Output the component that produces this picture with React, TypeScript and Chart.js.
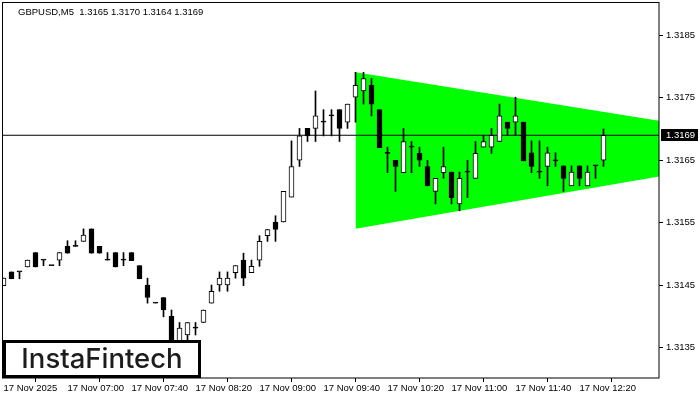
import React, { useEffect, useRef } from "react";
import { Chart, registerables } from "chart.js";

Chart.register(...registerables);

// ---- Data (GBPUSD M5, 17 Nov 2025, one candle every 5 minutes from 06:20) ----
const opens = [
  1.31449, 1.31471, 1.31471, 1.31479, 1.31502, 1.3149, 1.31481, 1.3149, 1.31512, 1.31512,
  1.3152, 1.3154, 1.31512, 1.3149, 1.31502, 1.3149, 1.31502, 1.31481, 1.3145, 1.31421,
  1.3143, 1.314, 1.3136, 1.3137, 1.31381, 1.3139, 1.31421, 1.3145, 1.3145, 1.3147,
  1.3149, 1.3147, 1.3149, 1.31529, 1.31551, 1.31551, 1.31591, 1.3165, 1.31701, 1.31701,
  1.31711, 1.31721, 1.31731, 1.31711, 1.31751, 1.31761, 1.3177, 1.31731, 1.31661, 1.3165,
  1.3163, 1.31671, 1.31661, 1.3164, 1.316, 1.3163, 1.31631, 1.3158, 1.31631, 1.31621,
  1.31671, 1.31671, 1.3168, 1.31711, 1.31711, 1.31711, 1.31662, 1.31631, 1.3164, 1.31649,
  1.31641, 1.31609, 1.31641, 1.31609, 1.31641, 1.3165,
];
const highs = [
  1.31461, 1.31471, 1.31471, 1.3149, 1.31502, 1.3149, 1.31481, 1.31502, 1.31521, 1.31521,
  1.3154, 1.3154, 1.31512, 1.31502, 1.31502, 1.31502, 1.31502, 1.31481, 1.31461, 1.31421,
  1.3143, 1.3141, 1.3139, 1.3139, 1.3139, 1.3141, 1.3145, 1.31471, 1.31471, 1.31481,
  1.31501, 1.3149, 1.31529, 1.31539, 1.31561, 1.316, 1.31681, 1.31701, 1.31701, 1.31761,
  1.31731, 1.31731, 1.31731, 1.3174, 1.31791, 1.31791, 1.31781, 1.31731, 1.31671, 1.3165,
  1.31701, 1.3168, 1.31671, 1.3165, 1.31621, 1.31671, 1.31631, 1.31631, 1.3165, 1.3168,
  1.3169, 1.31701, 1.3174, 1.31711, 1.31751, 1.31711, 1.31681, 1.31681, 1.31671, 1.31662,
  1.31641, 1.31641, 1.31641, 1.31641, 1.31641, 1.317,
];
const lows = [
  1.31449, 1.3146, 1.3146, 1.31479, 1.31479, 1.31481, 1.31481, 1.31481, 1.31501, 1.31512,
  1.3152, 1.31501, 1.31501, 1.3149, 1.31479, 1.31481, 1.31489, 1.3146, 1.31421, 1.31421,
  1.31399, 1.3134, 1.3135, 1.31362, 1.3137, 1.3139, 1.31421, 1.3144, 1.3144, 1.31461,
  1.31449, 1.3147, 1.3148, 1.3152, 1.3152, 1.31551, 1.31591, 1.3164, 1.3168, 1.3168,
  1.31689, 1.31689, 1.3168, 1.31701, 1.31711, 1.3174, 1.31721, 1.3167, 1.3163, 1.316,
  1.3163, 1.3163, 1.3164, 1.31609, 1.3158, 1.31621, 1.3158, 1.31569, 1.3159, 1.31621,
  1.31671, 1.31661, 1.3168, 1.3169, 1.3169, 1.31649, 1.3163, 1.31621, 1.31609, 1.3164,
  1.316, 1.31609, 1.31609, 1.31609, 1.31621, 1.3164,
];
const closes = [
  1.31461, 1.3146, 1.31471, 1.3149, 1.31479, 1.3149, 1.31481, 1.31502, 1.31501, 1.31512,
  1.3153, 1.31501, 1.31501, 1.3149, 1.31479, 1.3149, 1.31489, 1.3146, 1.3143, 1.31421,
  1.3141, 1.3135, 1.31381, 1.3139, 1.31381, 1.3141, 1.3144, 1.31461, 1.31461, 1.31481,
  1.31461, 1.3148, 1.3152, 1.31539, 1.31539, 1.316, 1.3164, 1.31689, 1.31689, 1.31721,
  1.31711, 1.31721, 1.31701, 1.3174, 1.3177, 1.31781, 1.3174, 1.3167, 1.31661, 1.3164,
  1.3168, 1.31671, 1.3165, 1.31609, 1.31621, 1.3164, 1.3159, 1.31621, 1.31631, 1.31661,
  1.3168, 1.3169, 1.31721, 1.31701, 1.31721, 1.31649, 1.3164, 1.31631, 1.31662, 1.31649,
  1.31621, 1.31631, 1.31621, 1.31631, 1.31641, 1.3169,
];

const xTickPositions = [0, 8, 16, 24, 32, 40, 48, 56, 64, 72];
const xTickLabels = [
  "17 Nov 2025", "17 Nov 07:00", "17 Nov 07:40", "17 Nov 08:20", "17 Nov 09:00",
  "17 Nov 09:40", "17 Nov 10:20", "17 Nov 11:00", "17 Nov 11:40", "17 Nov 12:20",
];
const yTickValues = [1.3135, 1.3145, 1.3155, 1.3165, 1.3175, 1.3185];

// symmetric triangle pattern (candle index -> price)
const triangleX = [44, 82];
const triangleTop = [1.31791, 1.31713];
const triangleBottom = [1.3154, 1.31624];

const currentPrice = 1.3169;
const headerText = "GBPUSD,M5  1.3165 1.3170 1.3164 1.3169";
const logoText = "InstaFintech";

const FONT = "'Liberation Sans', Arial, sans-serif";

export default function App() {
  const canvasRef = useRef<HTMLCanvasElement | null>(null);

  useEffect(() => {
    const canvas = canvasRef.current;
    if (!canvas) return;

    const idx = opens.map((_, i) => i);
    const bodies = idx.map((i) => ({ x: i, y: [opens[i], closes[i]] }));
    const wicks = idx.map((i) => ({ x: i, y: [lows[i], highs[i]] }));
    const bodyFill = idx.map((i) => (closes[i] > opens[i] ? "#ffffff" : "#000000"));

    const overlay = {
      id: "overlay",
      afterDraw(chart: any) {
        const ctx = chart.ctx as CanvasRenderingContext2D;
        const ca = chart.chartArea;
        const ys = chart.scales.y;
        ctx.save();
        // frame
        ctx.strokeStyle = "#000";
        ctx.lineWidth = 1;
        ctx.strokeRect(ca.left - 0.5, ca.top - 0.5, ca.right - ca.left + 0.5, ca.bottom - ca.top + 0.5);
        // header
        ctx.fillStyle = "#000";
        ctx.font = `9.5px ${FONT}`;
        ctx.textBaseline = "middle";
        ctx.textAlign = "left";
        ctx.fillText(headerText, 18, 12);
        // current price label
        const py = Math.round(ys.getPixelForValue(currentPrice));
        ctx.fillStyle = "#000";
        ctx.fillRect(ca.right + 2, py - 6, 37, 12);
        ctx.fillStyle = "#fff";
        ctx.fillText(currentPrice.toFixed(4), ca.right + 7, py + 0.5);
        // logo
        ctx.fillStyle = "#fff";
        ctx.fillRect(3, 340, 198, 38);
        ctx.strokeStyle = "#000";
        ctx.lineWidth = 3;
        ctx.strokeRect(4.5, 341.5, 195, 35);
        ctx.fillStyle = "#1c1c1c";
        ctx.font = `500 27.5px Inter, 'Noto Sans', sans-serif`;
        ctx.textAlign = "center";
        ctx.textBaseline = "alphabetic";
        ctx.fillText(logoText, 102, 368);
        ctx.restore();
      },
    };

    const chart = new Chart(canvas, {
      type: "bar",
      data: {
        datasets: [
          {
            type: "line",
            label: "top",
            data: triangleX.map((x, k) => ({ x, y: triangleTop[k] })),
            borderWidth: 0,
            pointRadius: 0,
            fill: false,
            order: 6,
          } as any,
          {
            type: "line",
            label: "bottom",
            data: triangleX.map((x, k) => ({ x, y: triangleBottom[k] })),
            borderWidth: 0,
            pointRadius: 0,
            backgroundColor: "#00ff00",
            fill: "-1",
            order: 5,
          } as any,
          {
            type: "line",
            label: "price",
            data: [
              { x: -1, y: currentPrice },
              { x: 90, y: currentPrice },
            ],
            borderColor: "#000",
            borderWidth: 1,
            pointRadius: 0,
            fill: false,
            order: 4,
          } as any,
          {
            label: "wick",
            data: wicks as any,
            backgroundColor: "#000",
            borderWidth: 0,
            barThickness: 1,
            grouped: false,
            order: 2,
          } as any,
          {
            label: "body",
            data: bodies as any,
            backgroundColor: bodyFill,
            borderColor: "#000",
            borderWidth: 1,
            borderSkipped: false,
            barThickness: 5,
            minBarLength: 1,
            grouped: false,
            order: 1,
          } as any,
        ],
      },
      options: {
        animation: false,
        responsive: false,
        devicePixelRatio: 1,
        layout: { padding: { left: 3, top: 3, right: 0, bottom: 0 } },
        plugins: { legend: { display: false }, tooltip: { enabled: false } },
        scales: {
          x: {
            type: "linear",
            offset: false,
            min: -0.0625,
            max: 81.9375,
            afterFit: (s: any) => {
              s.height = 22;
              s.paddingLeft = 0;
              s.paddingRight = 0;
            },
            afterBuildTicks: (s: any) => {
              s.ticks = xTickPositions.map((v) => ({ value: v }));
            },
            grid: { drawOnChartArea: false, drawTicks: true, tickLength: 4, color: "#000" },
            border: { display: false },
            ticks: {
              autoSkip: false,
              maxRotation: 0,
              align: "start",
              padding: 1,
              color: "#000",
              font: { family: FONT, size: 9.5 },
              callback: (v: any) => {
                const k = xTickPositions.indexOf(Number(v));
                return k >= 0 ? xTickLabels[k] : "";
              },
            },
          },
          y: {
            type: "linear",
            position: "right",
            min: 1.31301,
            max: 1.31902,
            afterFit: (s: any) => {
              s.width = 41;
              s.paddingTop = 0;
              s.paddingBottom = 0;
            },
            afterBuildTicks: (s: any) => {
              s.ticks = yTickValues.map((v) => ({ value: v }));
            },
            grid: { drawOnChartArea: false, drawTicks: true, tickLength: 4, color: "#000" },
            border: { display: false },
            ticks: {
              padding: 3,
              color: "#000",
              font: { family: FONT, size: 9.5 },
              callback: (v: any) => Number(v).toFixed(4),
            },
          },
        },
      } as any,
      plugins: [overlay],
    });

    return () => chart.destroy();
  }, []);

  return (
    <div style={{ position: "fixed", left: 0, top: 0, width: 700, height: 400, background: "#fff" }}>
      <canvas ref={canvasRef} width={700} height={400} style={{ display: "block" }} />
    </div>
  );
}
